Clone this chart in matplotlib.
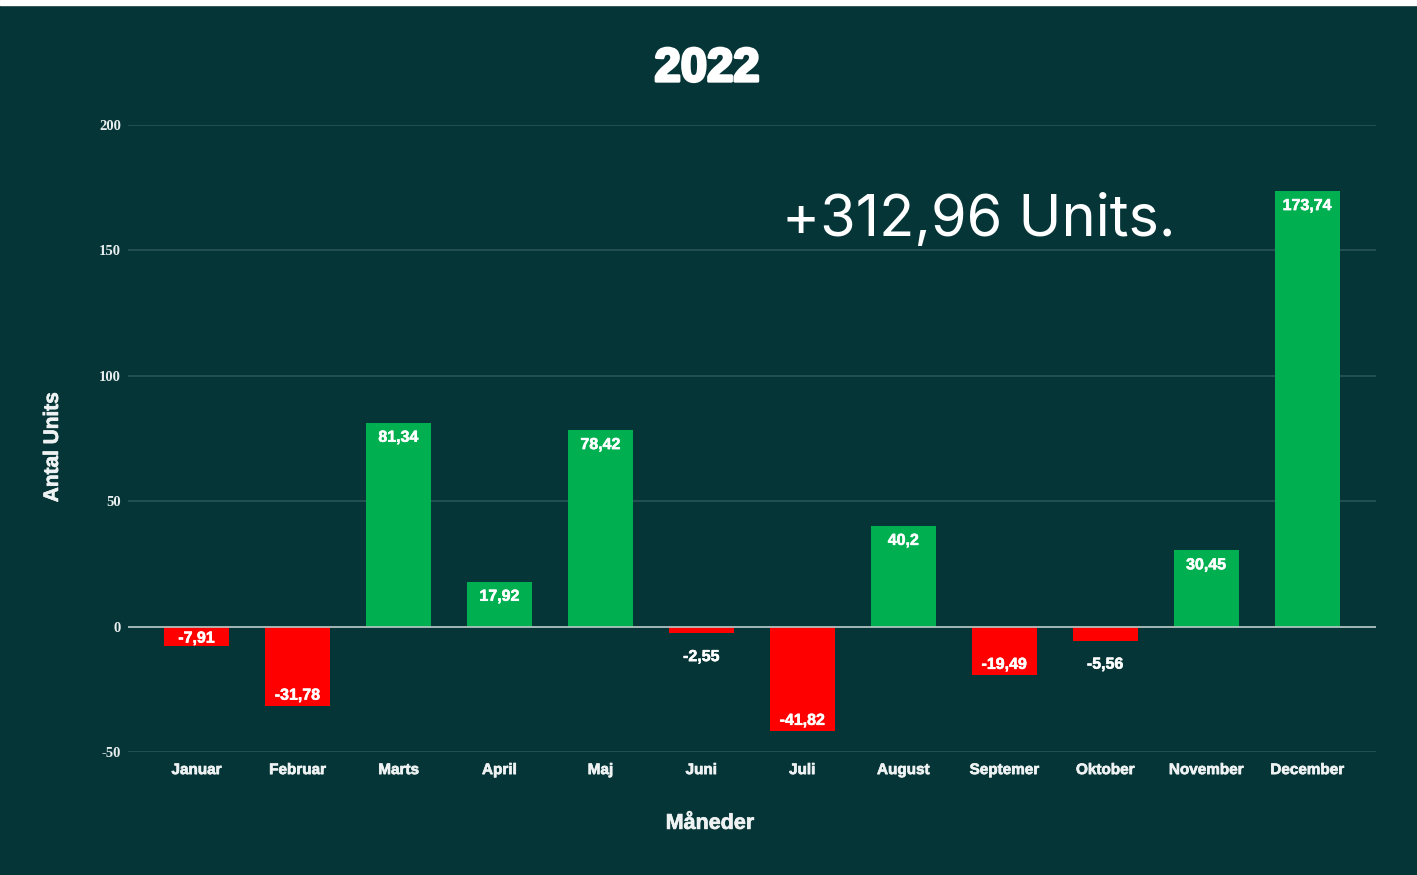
import matplotlib
matplotlib.use("Agg")
import matplotlib.pyplot as plt
import matplotlib.patheffects as pe

# data
months = ["Januar", "Februar", "Marts", "April", "Maj", "Juni", "Juli",
          "August", "Septemer", "Oktober", "November", "December"]
values = [-7.91, -31.78, 81.34, 17.92, 78.42, -2.55, -41.82,
          40.2, -19.49, -5.56, 30.45, 173.74]
yticks = [-50, 0, 50, 100, 150, 200]
total_text = "+312,96 Units."

bg = "#063537"
green = "#00b050"
red = "#ff0000"
txtcol = "#eef2f2"

fig = plt.figure(figsize=(14.17, 8.75), dpi=100)
fig.patch.set_facecolor(bg)
ax = fig.add_axes([0.0903, 0.1406, 0.971 - 0.0903, 0.857 - 0.1406])
ax.set_facecolor(bg)

x = list(range(len(months)))
colors = [green if v >= 0 else red for v in values]
ax.bar(x, values, width=0.64, color=colors, zorder=3)

ax.set_xlim(-0.68, len(months) - 1 + 0.68)
ax.set_ylim(-50, 200)
ax.set_yticks(yticks)
ax.set_yticklabels([str(t) for t in yticks], family="Liberation Serif",
                   fontweight="bold", fontsize=10.5, color="#e8eeee")
ax.set_xticks(x)
ax.set_xticklabels(months, family="Liberation Sans", fontweight="bold",
                   fontsize=11, color=txtcol)
for t in ax.get_xticklabels():
    t.set_path_effects([pe.withStroke(linewidth=0.5, foreground=txtcol)])
ax.tick_params(axis="both", length=0)
ax.tick_params(axis="x", pad=8)
ax.tick_params(axis="y", pad=5)

for s in ax.spines.values():
    s.set_visible(False)
ax.grid(axis="y", color="#2a5556", linewidth=1.2, zorder=0)
ax.axhline(0, color="#b8c8c8", linewidth=1.2, zorder=4)

# value labels
lbl = dict(ha="center", va="center", color="white", fontsize=11.5,
           fontweight="bold", family="Liberation Sans", zorder=5,
           textcoords="offset points",
           path_effects=[pe.withStroke(linewidth=0.4, foreground="white")])
for xi, v in zip(x, values):
    txt = ("%g" % v).replace(".", ",")
    if v >= 0:
        ax.annotate(txt, (xi, v), xytext=(0, -10.5), **lbl)
    elif v > -7:
        ax.annotate(txt, (xi, v), xytext=(0, -17), **lbl)
    else:
        ax.annotate(txt, (xi, v), xytext=(0, 6 if v > -10 else 8), **lbl)

fig.text(0.037, 0.489, "Antal Units", ha="center", va="center", rotation=90,
         family="Liberation Sans", fontweight="bold", fontsize=15,
         color=txtcol,
         path_effects=[pe.withStroke(linewidth=0.5, foreground=txtcol)])
fig.text(0.501, 0.059, "Måneder", ha="center", va="center",
         family="Liberation Sans", fontweight="bold", fontsize=15.5,
         color=txtcol,
         path_effects=[pe.withStroke(linewidth=0.5, foreground=txtcol)])

fig.text(0.499, 0.921, "2022", ha="center", va="center", color="white",
         fontsize=34, fontweight="bold", family="Liberation Sans",
         path_effects=[pe.withStroke(linewidth=2.2, foreground="white")])
fig.text(0.552, 0.748, total_text, ha="left", va="center", color="white",
         fontsize=41.5, family="Inter")

# thin white strip at the top like the screenshot
fig.patches.append(plt.Rectangle((0, 0.994), 1, 0.006, transform=fig.transFigure,
                                 color="white", zorder=10))

fig.savefig("out.png", dpi=100, facecolor=bg)
